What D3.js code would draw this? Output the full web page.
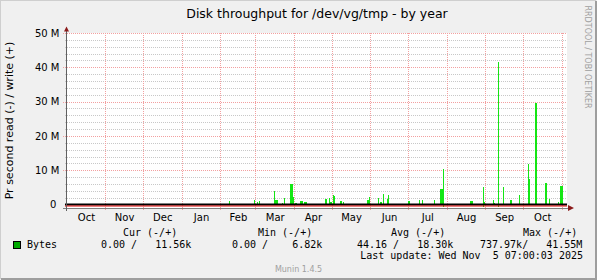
<!DOCTYPE html>
<html>
<head>
<meta charset="utf-8">
<script src="https://cdn.jsdelivr.net/npm/d3@7"></script>
<style>
body{margin:0;background:#f0f0f0;}
svg{display:block;}
text{font-family:"DejaVu Sans",sans-serif;fill:#000;}
.mono{font-family:"DejaVu Sans Mono",monospace;white-space:pre;}
</style>
</head>
<body>
<script>
//write (+) per day, in M bytes per second
var writeDates = ["2025-02-08","2025-02-28","2025-03-02","2025-03-04","2025-03-16","2025-03-17","2025-03-18",
    "2025-03-22","2025-03-24","2025-03-29","2025-03-30","2025-03-31","2025-04-02","2025-04-06","2025-04-07",
    "2025-04-09","2025-04-10","2025-04-26","2025-04-29","2025-04-30","2025-05-02","2025-05-03","2025-05-08",
    "2025-05-10","2025-05-16","2025-05-29","2025-05-30","2025-05-31","2025-06-07","2025-06-09","2025-06-11",
    "2025-06-14","2025-06-15","2025-07-01","2025-07-02","2025-07-10","2025-07-12","2025-07-22","2025-07-27",
    "2025-07-28","2025-07-29","2025-08-20","2025-08-21","2025-08-30","2025-08-31","2025-09-07","2025-09-08",
    "2025-09-11","2025-09-15","2025-09-21","2025-09-25","2025-09-26","2025-09-27","2025-09-28","2025-10-05",
    "2025-10-06","2025-10-11","2025-10-19","2025-10-22","2025-10-29","2025-10-31","2025-11-01","2025-11-02"];
var writeValues = [1.1,1.4,0.7,1.0,3.9,1.3,1.3,
    0.5,1.9,6.0,6.1,2.3,0.5,1.0,1.0,
    0.7,0.8,1.6,2.0,0.7,2.8,2.5,1.0,
    0.7,0.3,1.3,1.3,2.1,1.9,0.7,3.2,
    1.6,2.9,1.0,1.0,1.3,1.3,1.3,4.5,
    4.5,10.3,1.0,1.0,5.1,0.7,1.3,0.4,
    41.55,5.1,1.3,0.3,0.3,0.3,2.8,11.7,
    7.4,29.5,6.2,1.6,0.7,5.5,5.5,0.3];

//read (-) per day, in M bytes per second
var readDates = ["2025-07-29","2025-08-30","2025-09-11"];
var readValues = [0.6,0.7,0.74];

//axis labels
var yTicks = [0,10,20,30,40,50];
var yTickLabels = ["0\u00a0","10 M","20 M","30 M","40 M","50 M"];
var monthLabels = ["Oct","Nov","Dec","Jan","Feb","Mar","Apr","May","Jun","Jul","Aug","Sep","Oct"];

//legend texts
var legendHeads = ["Cur (-/+)","Min (-/+)","Avg (-/+)","Max (-/+)"];
var legendValues = ["0.00 /   11.56k","0.00 /    6.82k","44.16 /   18.30k","737.97k/   41.55M"];
var lastUpdate = "Last update: Wed Nov  5 07:00:03 2025";

var width = 597,
    height = 280;

var svg = d3.select("body")
    .append("svg")
    .attr("width", width)
    .attr("height", height);

//background and 3d frame
svg.append("rect").attr("width", width).attr("height", height).attr("fill", "#f0f0f0");
svg.append("path").attr("d", "M0,279V0H596").attr("fill", "none").attr("stroke", "#cfcfcf").attr("stroke-width", 2);
svg.append("path").attr("d", "M1,279H596V1").attr("fill", "none").attr("stroke", "#9e9e9e").attr("stroke-width", 2);

var parseDay = d3.timeParse("%Y-%m-%d");
var start = new Date(2024, 9, 1, 7, 0, 3),
    end = new Date(2025, 10, 5, 7, 0, 3);

var x = d3.scaleTime().domain([start, end]).range([67, 567]);
var y = d3.scaleLinear().domain([-1.0, 50]).range([208, 33]);

//canvas
svg.append("rect")
    .attr("x", 67).attr("y", 33)
    .attr("width", 500).attr("height", 175)
    .attr("fill", "#fff");

//minor horizontal grid, every 2 M
var minor = d3.range(2, 50, 2).filter(function(v){ return v % 10 != 0; });
svg.selectAll(".minor")
    .data(minor)
    .enter()
    .append("line")
    .attr("class", "minor")
    .attr("x1", 65).attr("x2", 567)
    .attr("y1", function(d){ return Math.round(y(d)) + 0.5; })
    .attr("y2", function(d){ return Math.round(y(d)) + 0.5; })
    .attr("stroke", "#c8c8c8")
    .attr("stroke-dasharray", "1,1");

//major horizontal grid
svg.selectAll(".major")
    .data(yTicks.slice(1))
    .enter()
    .append("line")
    .attr("class", "major")
    .attr("x1", 63).attr("x2", 567)
    .attr("y1", function(d){ return Math.round(y(d)) + 0.5; })
    .attr("y2", function(d){ return Math.round(y(d)) + 0.5; })
    .attr("stroke", "#f2a0a0")
    .attr("stroke-dasharray", "1,1");

//month lines
var months = d3.timeMonth.range(d3.timeMonth.ceil(start), end);
svg.selectAll(".vgrid")
    .data(months)
    .enter()
    .append("line")
    .attr("class", "vgrid")
    .attr("x1", function(d){ return Math.round(x(d)) + 0.5; })
    .attr("x2", function(d){ return Math.round(x(d)) + 0.5; })
    .attr("y1", 33).attr("y2", 211)
    .attr("stroke", "#f2a0a0")
    .attr("stroke-dasharray", "1,1");

//write bars
var writeData = writeDates.map(function(d, i){ return {date: parseDay(d), value: writeValues[i]}; });
svg.selectAll(".write")
    .data(writeData)
    .enter()
    .append("rect")
    .attr("class", "write")
    .attr("x", function(d){ return x(d.date); })
    .attr("width", function(d){ return x(d3.timeDay.offset(d.date, 1)) - x(d.date); })
    .attr("y", function(d){ return y(d.value); })
    .attr("height", function(d){ return y(0) - y(d.value); })
    .attr("fill", "#14e614")
    .attr("shape-rendering", "crispEdges");

//read bars below zero
var readData = readDates.map(function(d, i){ return {date: parseDay(d), value: readValues[i]}; });
svg.selectAll(".read")
    .data(readData)
    .enter()
    .append("rect")
    .attr("class", "read")
    .attr("x", function(d){ return x(d.date); })
    .attr("width", function(d){ return x(d3.timeDay.offset(d.date, 1)) - x(d.date); })
    .attr("y", y(0))
    .attr("height", function(d){ return y(-d.value) - y(0); })
    .attr("fill", "#14e614")
    .attr("shape-rendering", "crispEdges");

//zero line, red line and x axis
svg.append("line").attr("x1", 65).attr("x2", 567).attr("y1", y(0)).attr("y2", y(0))
    .attr("stroke", "#000").attr("stroke-width", 2);
svg.append("line").attr("x1", 65).attr("x2", 567).attr("y1", 206).attr("y2", 206)
    .attr("stroke", "#e00000").attr("stroke-width", 1);
svg.append("line").attr("x1", 63).attr("x2", 569).attr("y1", 208.5).attr("y2", 208.5)
    .attr("stroke", "#808080").attr("stroke-width", 1);
svg.append("line").attr("x1", 66.5).attr("x2", 66.5).attr("y1", 29).attr("y2", 211)
    .attr("stroke", "#606060").attr("stroke-width", 1);
svg.append("path").attr("d", "M568,205L574,208L568,211Z").attr("fill", "#8b1a1a");
svg.append("path").attr("d", "M64,31.5L66.5,26.5L69,31.5Z").attr("fill", "#8b1a1a");

//y axis labels
var yAxis = d3.axisLeft(y)
    .tickValues(yTicks)
    .tickFormat(function(d, i){ return yTickLabels[i]; })
    .tickSize(0)
    .tickPadding(7.5);
var gy = svg.append("g").attr("transform", "translate(67,0)").call(yAxis);
gy.select(".domain").remove();
gy.selectAll("text").attr("font-size", 10).attr("font-family", "DejaVu Sans").attr("fill", "#000");

//month labels in the middle of each month
var monthMids = [d3.timeMonth.floor(start)].concat(months).slice(0, monthLabels.length).map(function(m){
    var next = d3.timeMonth.offset(m, 1);
    return new Date((m.getTime() + next.getTime()) / 2);
});
var xAxis = d3.axisBottom(x)
    .tickValues(monthMids)
    .tickFormat(function(d, i){ return monthLabels[i]; })
    .tickSize(0)
    .tickPadding(6);
var gx = svg.append("g").attr("transform", "translate(0,208)").call(xAxis);
gx.select(".domain").remove();
gx.selectAll("text").attr("font-size", 10).attr("font-family", "DejaVu Sans").attr("fill", "#000");

//titles
svg.append("text")
    .attr("x", 317).attr("y", 18)
    .attr("text-anchor", "middle")
    .attr("font-size", 12.5)
    .text("Disk throughput for /dev/vg/tmp - by year");
svg.append("text")
    .attr("transform", "translate(12.5,120.5) rotate(-90)")
    .attr("text-anchor", "middle")
    .attr("font-size", 11)
    .text("Pr second read (-) / write (+)");
svg.append("text")
    .attr("transform", "translate(585,57) rotate(90)")
    .attr("text-anchor", "middle")
    .attr("font-size", 8)
    .attr("fill", "#a0a0a0")
    .style("fill", "#a0a0a0")
    .text("RRDTOOL / TOBI OETIKER");

//legend
var headX = [123, 258, 391, 523],
    valueX = [101, 232, 357, 480];
svg.append("rect").attr("x", 13.5).attr("y", 241.5).attr("width", 7).attr("height", 7)
    .attr("fill", "#00aa00").attr("stroke", "#000");
svg.append("text").attr("class", "mono").attr("x", 27).attr("y", 248).attr("font-size", 10).text("Bytes");
svg.selectAll(".head")
    .data(legendHeads)
    .enter()
    .append("text")
    .attr("class", "mono head")
    .attr("x", function(d, i){ return headX[i]; })
    .attr("y", 236)
    .attr("font-size", 10)
    .text(function(d){ return d; });
svg.selectAll(".val")
    .data(legendValues)
    .enter()
    .append("text")
    .attr("class", "mono val")
    .attr("x", function(d, i){ return valueX[i]; })
    .attr("y", 248)
    .attr("font-size", 10)
    .text(function(d){ return d; });
svg.append("text").attr("class", "mono").attr("x", 583).attr("y", 259)
    .attr("text-anchor", "end").attr("font-size", 10).text(lastUpdate);
svg.append("text").attr("x", 298.5).attr("y", 272)
    .attr("text-anchor", "middle").attr("font-size", 8)
    .style("fill", "#a0a0a0")
    .text("Munin 1.4.5");
</script>
</body>
</html>
